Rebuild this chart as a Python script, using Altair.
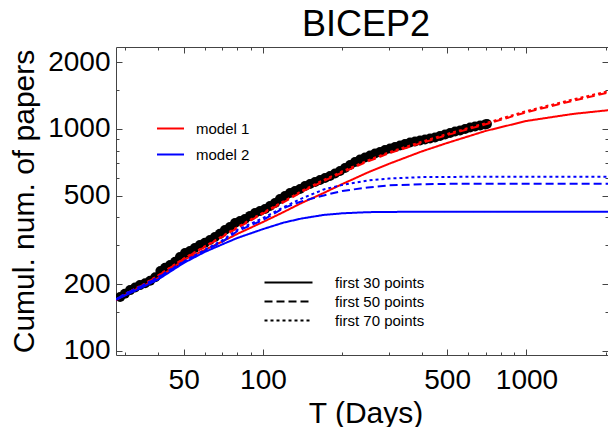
import altair as alt
import pandas as pd

FONT = "Liberation Sans"
FRAME = "#444444"

# observed cumulative number of papers (black points)
T_obs = [28.7, 29.9, 31.3, 32.7, 34.1, 35.7, 37.3, 39.0, 40.8, 42.5, 44.4, 46.4, 48.4, 50.6, 52.8,
         55.1, 57.6, 60.2, 62.9, 65.7, 68.6, 71.7, 74.9, 78.3, 81.8, 85.4, 89.3, 93.3, 97.4, 101.8,
         106.3, 111.1, 116.0, 121.2, 126.6, 132.3, 138.2, 144.4, 150.8, 157.6, 164.6, 172.0, 179.6,
         187.6, 196.0, 204.8, 214.0, 223.5, 233.5, 243.9, 254.8, 266.2, 278.1, 290.5, 303.5, 317.1,
         331.2, 346.0, 361.5, 377.7, 394.5, 412.2, 430.6, 449.8, 469.9, 491.0, 512.9, 535.8, 559.8,
         584.8, 611.0, 638.0, 667.0, 697.0, 708.0]
N_obs = [175, 181, 188, 193, 198, 202, 207, 215, 229, 237, 244, 252, 265, 276, 282,
         291, 300, 307, 316, 326, 337, 351, 362, 377, 385, 393, 406, 418, 427, 436,
         450, 464, 484, 499, 515, 526, 537, 554, 565, 577, 589, 602, 614,
         630, 647, 667, 688, 710, 729, 744, 760, 775, 788, 804, 817, 830,
         843, 856, 870, 879, 888, 897, 906, 915, 930, 944, 959, 974, 984,
         1000, 1016, 1026, 1037, 1048, 1053]

# model curves
T_fit = [27.7, 30, 35, 40, 50, 60, 70, 80, 100, 120, 140, 170, 200, 250, 300, 400, 500, 700, 1000, 1500, 2167]
m1_30 = [170, 179, 196, 213, 257, 285, 311, 337, 381, 423, 464, 515, 565, 637, 696, 792, 865, 980, 1087, 1169, 1224]
m1_50 = [170, 181, 198, 218, 260, 294, 326, 358, 416, 468, 520, 583, 637, 714, 776, 865, 939, 1050, 1190, 1340, 1483]
m1_70 = [170, 181, 199, 219, 261, 296, 329, 362, 420, 473, 526, 590, 645, 722, 785, 876, 950, 1062, 1205, 1358, 1503]
m2_30 = [170, 178, 194, 210, 249, 279, 302, 323, 354, 379, 395, 410, 417, 422, 423, 424, 424, 424, 424, 424, 424]
m2_50 = [171, 181, 197, 214, 252, 282, 310, 347, 389, 441, 472, 502, 526, 545, 557, 564, 566, 567, 567, 567, 567]
m2_70 = [171, 181, 198, 215, 253, 285, 315, 351, 397, 445, 486, 534, 560, 586, 598, 607, 608, 610, 610, 610, 610]

models = ["model 1", "model 2"]
fits = ["first 30 points", "first 50 points", "first 70 points"]

x_major = [50, 100, 500, 1000]
x_all = [30, 40, 50, 60, 70, 80, 90, 100, 200, 300, 400, 500, 600, 700, 800, 900, 1000, 2000]
y_major = [100, 200, 500, 1000, 2000]
y_all = [100, 150, 200, 300, 400, 500, 600, 700, 800, 900, 1000, 1500, 2000]

obs = pd.DataFrame({"T": T_obs, "N": N_obs})
rows = []
for model, series in [("model 1", [m1_30, m1_50, m1_70]), ("model 2", [m2_30, m2_50, m2_70])]:
    for fit, vals in zip(fits, series):
        for t, n in zip(T_fit, vals):
            rows.append({"T": t, "N": n, "model": model, "fit": fit})
fit_df = pd.DataFrame(rows)

W, H = 492, 308
sx = alt.Scale(type="log", domain=[27.68, 2039], nice=False)
sy = alt.Scale(type="log", domain=[95.9, 2341], nice=False)

xcond = {"condition": {"test": "indexof([50,100,500,1000], datum.value) >= 0", "value": 6}, "value": 3}
ycond = {"condition": {"test": "indexof([100,200,500,1000,2000], datum.value) >= 0", "value": 6}, "value": 3}

ax_x_lab = alt.Axis(orient="bottom", values=x_major, format="d", ticks=False, tickSize=0, domain=False,
                    grid=False, labelFontSize=28, labelFont=FONT, labelColor="black", labelPadding=11,
                    labelOverlap=False, labelFlush=False,
                    title="T (Days)", titleFontSize=30, titleFont=FONT, titleFontWeight="normal",
                    titleColor="black", titleX=249.5, titleY=67, titleBaseline="alphabetic",
                    titleAlign="center")
ax_y_lab = alt.Axis(orient="left", values=y_major, format="d", ticks=False, tickSize=0, domain=False,
                    grid=False, labelFontSize=28, labelFont=FONT, labelColor="black", labelPadding=6,
                    labelOverlap=False, labelFlush=False,
                    title="Cumul. num. of papers", titleFontSize=30, titleFont=FONT,
                    titleFontWeight="normal", titleColor="black", titleX=-83, titleY=H / 2,
                    titleAngle=270, titleBaseline="alphabetic", titleAlign="center")

def tick_axis(orient, offset, values, cond):
    return alt.Axis(orient=orient, offset=offset, values=values, labels=False, ticks=True,
                    tickSize=cond, tickColor=FRAME, tickWidth=1, domain=False, grid=False,
                    title=None)

color_scale = alt.Scale(domain=models, range=["#ff0000", "#0000ff"])
dash_scale = alt.Scale(domain=fits, range=[[1, 0], [8, 4], [3, 3]])

leg_color = alt.Legend(orient="none", legendX=40, legendY=67, title=None, symbolType="stroke",
                       symbolSize=729, symbolStrokeWidth=2, labelFontSize=15, labelFont=FONT,
                       labelColor="black", labelOffset=11, rowPadding=3)
leg_dash = alt.Legend(orient="none", legendX=165, legendY=228, title=None, symbolType="M-4,0H4",
                      symbolSize=144, symbolStrokeWidth=2, symbolStrokeColor="black",
                      symbolFillColor="transparent",
                      labelFontSize=15, labelFont=FONT, labelColor="black", labelOffset=39,
                      rowPadding=3)

points = alt.Chart(obs).mark_circle(size=100, color="black", opacity=1, clip=True).encode(
    x=alt.X("T:Q", scale=sx, axis=ax_x_lab),
    y=alt.Y("N:Q", scale=sy, axis=ax_y_lab),
)

def line_layer(model, axx, axy):
    return alt.Chart(fit_df[fit_df["model"] == model]).mark_line(strokeWidth=2, clip=True).encode(
        x=alt.X("T:Q", scale=sx, axis=axx),
        y=alt.Y("N:Q", scale=sy, axis=axy),
        color=alt.Color("model:N", scale=color_scale, legend=leg_color),
        strokeDash=alt.StrokeDash("fit:N", scale=dash_scale, legend=leg_dash),
        detail="fit:N",
    )

red = line_layer("model 1", tick_axis("top", -H, x_all, xcond), tick_axis("right", -W, y_all, ycond))
blue = line_layer("model 2", tick_axis("bottom", -H, x_all, xcond), tick_axis("left", -W, y_all, ycond))

chart = alt.layer(points, red, blue).resolve_axis(x="independent", y="independent").properties(
    width=W, height=H,
    title=alt.TitleParams("BICEP2", fontSize=36, font=FONT, fontWeight="normal", color="black",
                          anchor="middle", frame="group", offset=3, dx=4),
    padding={"left": 108, "top": 39, "right": 0, "bottom": 72},
    autosize=alt.AutoSizeParams(type="none"),
    background="white",
).configure_view(stroke=FRAME, strokeWidth=1)

chart.save("out.html", embed_options={"renderer": "svg", "actions": False})
